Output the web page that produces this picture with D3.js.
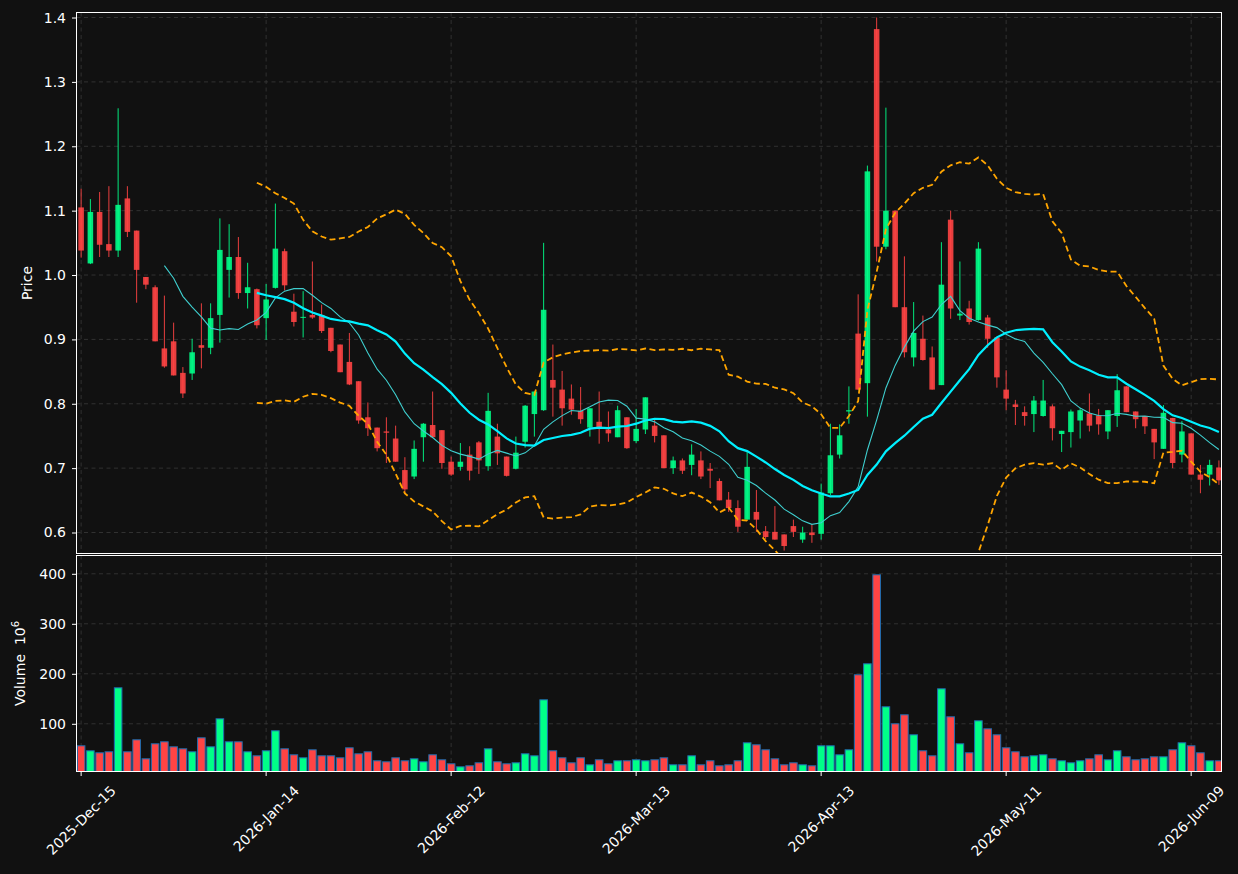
<!DOCTYPE html>
<html>
<head>
<meta charset="utf-8">
<script src="https://cdn.jsdelivr.net/npm/d3@7"></script>
<style>
  html, body { margin: 0; padding: 0; background: #111111; }
  svg { display: block; font-family: "DejaVu Sans", sans-serif; }
  text { white-space: pre; }
</style>
</head>
<body>
<svg id="chart" width="1238" height="874"></svg>
<script>
// market holidays skipped in the trading calendar
const holidays = ['2025-12-25', '2026-01-01', '2026-01-19', '2026-02-16', '2026-04-03', '2026-05-25'];

const opens = [
  1.105, 1.018, 1.098, 1.048, 1.038, 1.119, 1.069, 0.997, 0.981, 0.886,
  0.897, 0.848, 0.847, 0.891, 0.887, 0.938, 1.008, 1.028, 0.972, 0.978,
  0.933, 0.980, 1.037, 0.943, 0.934, 0.938, 0.938, 0.918, 0.892, 0.865,
  0.835, 0.779, 0.763, 0.757, 0.746, 0.697, 0.687, 0.748, 0.767, 0.759,
  0.710, 0.702, 0.721, 0.740, 0.703, 0.749, 0.718, 0.699, 0.741, 0.784,
  0.790, 0.837, 0.822, 0.808, 0.789, 0.763, 0.772, 0.760, 0.748, 0.779,
  0.742, 0.760, 0.766, 0.751, 0.700, 0.712, 0.705, 0.712, 0.699, 0.680,
  0.651, 0.638, 0.620, 0.632, 0.602, 0.601, 0.597, 0.610, 0.589, 0.600,
  0.598, 0.661, 0.721, 0.788, 0.909, 0.832, 1.382, 1.044, 1.100, 0.950,
  0.872, 0.901, 0.872, 0.829, 1.086, 0.937, 0.948, 0.930, 0.934, 0.903,
  0.822, 0.799, 0.787, 0.784, 0.781, 0.796, 0.753, 0.756, 0.774, 0.785,
  0.782, 0.757, 0.781, 0.827, 0.788, 0.781, 0.761, 0.730, 0.778, 0.721,
  0.754, 0.690, 0.690, 0.701,
];
const highs = [
  1.134, 1.118, 1.129, 1.138, 1.259, 1.138, 1.069, 0.997, 0.984, 0.968,
  0.926, 0.857, 0.901, 0.956, 0.956, 1.088, 1.079, 1.059, 1.019, 0.979,
  0.986, 1.111, 1.041, 0.971, 0.975, 1.021, 0.954, 0.918, 0.892, 0.910,
  0.835, 0.802, 0.763, 0.779, 0.766, 0.717, 0.743, 0.770, 0.819, 0.759,
  0.718, 0.739, 0.734, 0.742, 0.817, 0.769, 0.718, 0.749, 0.798, 0.819,
  1.050, 0.892, 0.851, 0.830, 0.826, 0.793, 0.819, 0.788, 0.797, 0.779,
  0.792, 0.810, 0.777, 0.751, 0.718, 0.715, 0.737, 0.726, 0.708, 0.684,
  0.663, 0.650, 0.727, 0.666, 0.610, 0.641, 0.597, 0.620, 0.609, 0.613,
  0.676, 0.769, 0.768, 0.827, 0.970, 1.170, 1.400, 1.260, 1.100, 1.029,
  0.958, 0.937, 0.889, 1.051, 1.100, 1.021, 0.960, 1.051, 0.938, 0.903,
  0.852, 0.806, 0.796, 0.812, 0.837, 0.799, 0.758, 0.791, 0.793, 0.816,
  0.792, 0.790, 0.846, 0.827, 0.788, 0.781, 0.761, 0.798, 0.778, 0.773,
  0.754, 0.705, 0.713, 0.712,
];
const lows = [
  1.027, 1.017, 1.028, 1.028, 1.028, 1.059, 0.957, 0.978, 0.897, 0.856,
  0.844, 0.809, 0.837, 0.855, 0.877, 0.895, 0.965, 0.963, 0.948, 0.917,
  0.899, 0.979, 0.976, 0.920, 0.903, 0.932, 0.910, 0.880, 0.849, 0.829,
  0.769, 0.750, 0.726, 0.708, 0.710, 0.661, 0.683, 0.710, 0.748, 0.699,
  0.688, 0.696, 0.681, 0.691, 0.696, 0.705, 0.687, 0.698, 0.732, 0.749,
  0.789, 0.780, 0.766, 0.783, 0.769, 0.749, 0.738, 0.741, 0.748, 0.730,
  0.739, 0.753, 0.740, 0.700, 0.691, 0.691, 0.689, 0.683, 0.669, 0.650,
  0.632, 0.601, 0.620, 0.601, 0.590, 0.589, 0.572, 0.593, 0.584, 0.584,
  0.589, 0.658, 0.715, 0.769, 0.822, 0.780, 1.021, 1.040, 0.950, 0.872,
  0.858, 0.867, 0.822, 0.829, 0.932, 0.930, 0.923, 0.929, 0.887, 0.825,
  0.790, 0.767, 0.766, 0.756, 0.780, 0.743, 0.725, 0.732, 0.746, 0.757,
  0.752, 0.745, 0.764, 0.787, 0.762, 0.753, 0.714, 0.730, 0.700, 0.709,
  0.690, 0.661, 0.673, 0.674,
];
const closes = [
  1.038, 1.098, 1.047, 1.038, 1.109, 1.067, 1.008, 0.985, 0.897, 0.858,
  0.844, 0.816, 0.880, 0.887, 0.933, 1.039, 1.028, 0.972, 0.981, 0.922,
  0.962, 1.041, 0.984, 0.927, 0.935, 0.934, 0.913, 0.882, 0.849, 0.830,
  0.774, 0.762, 0.731, 0.755, 0.710, 0.667, 0.730, 0.769, 0.748, 0.708,
  0.690, 0.710, 0.696, 0.712, 0.789, 0.723, 0.688, 0.724, 0.797, 0.819,
  0.946, 0.825, 0.793, 0.791, 0.776, 0.793, 0.763, 0.754, 0.790, 0.731,
  0.761, 0.810, 0.750, 0.700, 0.712, 0.696, 0.721, 0.687, 0.696, 0.650,
  0.638, 0.609, 0.702, 0.620, 0.593, 0.589, 0.579, 0.601, 0.600, 0.596,
  0.662, 0.720, 0.751, 0.790, 0.822, 1.161, 1.044, 1.100, 0.950, 0.880,
  0.910, 0.868, 0.822, 0.985, 0.948, 0.940, 0.927, 1.041, 0.901, 0.841,
  0.808, 0.795, 0.781, 0.805, 0.805, 0.762, 0.758, 0.788, 0.790, 0.766,
  0.768, 0.790, 0.821, 0.787, 0.776, 0.765, 0.740, 0.786, 0.708, 0.757,
  0.690, 0.682, 0.705, 0.681,
];
// volume in millions
const volumes = [
  56, 46, 42, 44, 172, 44, 68, 30, 60, 64,
  54, 50, 44, 72, 54, 110, 64, 64, 44, 36,
  46, 86, 50, 38, 32, 48, 36, 36, 32, 52,
  40, 44, 26, 24, 32, 26, 30, 24, 38, 28,
  20, 14, 16, 22, 50, 24, 20, 22, 40, 36,
  148, 46, 32, 22, 32, 18, 28, 20, 26, 26,
  28, 26, 28, 32, 18, 18, 36, 18, 26, 16,
  18, 26, 62, 58, 48, 30, 18, 22, 18, 16,
  56, 56, 38, 48, 198, 220, 398, 134, 100, 118,
  78, 46, 36, 170, 114, 60, 42, 106, 90, 78,
  52, 44, 34, 36, 38, 30, 26, 22, 26, 30,
  38, 28, 46, 34, 28, 30, 34, 34, 48, 62,
  56, 42, 26, 26,
];
const priceTicks = [0.6, 0.7, 0.8, 0.9, 1.0, 1.1, 1.2, 1.3, 1.4];
const volumeTicks = [100, 200, 300, 400];
const dateTickEvery = 20;

const upColor = '#00ff88';
const downColor = '#ff4444';

// trading days: weekdays minus holidays
const fmtDay = d3.utcFormat('%Y-%m-%d');
const dates = d3.utcDay
  .range(new Date(Date.UTC(2025, 11, 15)), new Date(Date.UTC(2026, 5, 13)))
  .filter((d) => d.getUTCDay() !== 0 && d.getUTCDay() !== 6 && !holidays.includes(fmtDay(d)))
  .slice(0, closes.length);
const fmtTick = d3.utcFormat('%Y-%b-%d');

const bars = closes.map((c, i) => ({
  i, o: opens[i], h: highs[i], l: lows[i], c, v: volumes[i], up: c >= opens[i],
}));

const rolling = (arr, n, fn) => arr.map((_, i) => (i < n - 1 ? null : fn(arr.slice(i - n + 1, i + 1))));
const ma10 = rolling(closes, 10, d3.mean);
const ma20 = rolling(closes, 20, d3.mean);
const sd20 = rolling(closes, 20, (w) => {
  const m = d3.mean(w);
  return Math.sqrt(d3.mean(w, (x) => (x - m) ** 2));
});
const bbUpper = ma20.map((m, i) => (m === null ? null : m + 2 * sd20[i]));
const bbLower = ma20.map((m, i) => (m === null ? null : m - 2 * sd20[i]));

const dim = {
  l: 76.5, r: 1221.5, priceTop: 12.5, priceBottom: 553.5, volTop: 555.5, volBottom: 771.5,
};

const svg = d3.select('#chart');
svg.append('rect').attr('width', 1238).attr('height', 874).attr('fill', '#111111');

const x = d3.scaleLinear().domain([-0.5, 123.28]).range([dim.l, dim.r]);
const yP = d3.scaleLinear().domain([0.5674, 1.4078]).range([dim.priceBottom, dim.priceTop]);
const yV = d3.scaleLinear().domain([4.6, 436.6]).range([dim.volBottom, dim.volTop]);
const step = x(1) - x(0);
const dateTicks = d3.range(0, closes.length, dateTickEvery);

const defs = svg.append('defs');
defs.append('clipPath').attr('id', 'clip-price')
  .append('rect')
  .attr('x', dim.l).attr('y', dim.priceTop)
  .attr('width', dim.r - dim.l).attr('height', dim.priceBottom - dim.priceTop);
defs.append('clipPath').attr('id', 'clip-vol')
  .append('rect')
  .attr('x', dim.l).attr('y', dim.volTop)
  .attr('width', dim.r - dim.l).attr('height', dim.volBottom - dim.volTop);

const gridStyle = (sel) => sel
  .attr('stroke', '#3a3a3a')
  .attr('stroke-width', 0.8)
  .attr('stroke-dasharray', '4,3.5');

const drawGrid = (g, yScale, yTicks, top, bottom) => {
  g.selectAll('.gx').data(dateTicks).join('line')
    .attr('class', 'gx')
    .attr('x1', (d) => x(d)).attr('x2', (d) => x(d))
    .attr('y1', top).attr('y2', bottom)
    .call(gridStyle);
  g.selectAll('.gy').data(yTicks).join('line')
    .attr('class', 'gy')
    .attr('x1', dim.l).attr('x2', dim.r)
    .attr('y1', (d) => yScale(d)).attr('y2', (d) => yScale(d))
    .call(gridStyle);
};

drawGrid(svg.append('g'), yP, priceTicks, dim.priceTop, dim.priceBottom);
drawGrid(svg.append('g'), yV, volumeTicks, dim.volTop, dim.volBottom);

// candles
const candleG = svg.append('g').attr('clip-path', 'url(#clip-price)');
const bodyW = step * 0.6;

candleG.selectAll('.wick').data(bars).join('line')
  .attr('class', 'wick')
  .attr('x1', (d) => x(d.i)).attr('x2', (d) => x(d.i))
  .attr('y1', (d) => yP(d.h)).attr('y2', (d) => yP(d.l))
  .attr('stroke', (d) => (d.up ? upColor : downColor))
  .attr('stroke-opacity', 0.9)
  .attr('stroke-width', 1);

candleG.selectAll('.body').data(bars).join('rect')
  .attr('class', 'body')
  .attr('x', (d) => x(d.i) - bodyW / 2)
  .attr('width', bodyW)
  .attr('y', (d) => yP(Math.max(d.o, d.c)))
  .attr('height', (d) => Math.max(1, Math.abs(yP(d.o) - yP(d.c))))
  .attr('fill', (d) => (d.up ? upColor : downColor))
  .attr('fill-opacity', 0.9);

// moving averages and bands
const lineOf = (vals) => d3.line()
  .defined((d) => d !== null)
  .x((d, i) => x(i))
  .y((d) => yP(d))(vals);

const linesG = svg.append('g').attr('clip-path', 'url(#clip-price)').attr('fill', 'none');
linesG.append('path').attr('d', lineOf(ma10))
  .attr('stroke', '#3fcfcf').attr('stroke-width', 1.1);
linesG.append('path').attr('d', lineOf(ma20))
  .attr('stroke', '#00f0ff').attr('stroke-width', 2.2);
[bbUpper, bbLower].forEach((band) => {
  linesG.append('path').attr('d', lineOf(band))
    .attr('stroke', '#ffa500').attr('stroke-width', 1.8)
    .attr('stroke-dasharray', '6,3.5');
});

// volume bars
const volW = step * 0.82;
svg.append('g').attr('clip-path', 'url(#clip-vol)')
  .selectAll('rect').data(bars).join('rect')
  .attr('x', (d) => x(d.i) - volW / 2)
  .attr('width', volW)
  .attr('y', (d) => yV(d.v))
  .attr('height', (d) => yV(0) - yV(d.v))
  .attr('fill', (d) => (d.up ? upColor : downColor))
  .attr('stroke', '#1f6db0')
  .attr('stroke-width', 1);

// frames
[[dim.priceTop, dim.priceBottom], [dim.volTop, dim.volBottom]].forEach(([t, b]) => {
  svg.append('rect')
    .attr('x', dim.l).attr('y', t)
    .attr('width', dim.r - dim.l).attr('height', b - t)
    .attr('fill', 'none').attr('stroke', '#ffffff').attr('stroke-width', 1);
});

const styleAxis = (g) => {
  g.select('.domain').remove();
  g.selectAll('line').attr('stroke', '#ffffff');
  g.selectAll('text')
    .attr('fill', '#ffffff')
    .style('font-size', '14px')
    .style('font-family', '"DejaVu Sans", sans-serif');
};

svg.append('g')
  .attr('transform', `translate(${dim.l},0)`)
  .call(d3.axisLeft(yP).tickValues(priceTicks).tickFormat(d3.format('.1f'))
    .tickSize(4.5).tickPadding(6))
  .call(styleAxis);

svg.append('g')
  .attr('transform', `translate(${dim.l},0)`)
  .call(d3.axisLeft(yV).tickValues(volumeTicks).tickFormat(d3.format('d'))
    .tickSize(4.5).tickPadding(6))
  .call(styleAxis);

// date axis, rotated labels centred under the ticks
const xAxisG = svg.append('g');
xAxisG.selectAll('line').data(dateTicks).join('line')
  .attr('x1', (d) => x(d)).attr('x2', (d) => x(d))
  .attr('y1', dim.volBottom).attr('y2', dim.volBottom + 4.5)
  .attr('stroke', '#ffffff');
xAxisG.selectAll('text').data(dateTicks).join('text')
  .attr('fill', '#ffffff')
  .style('font-size', '14px')
  .attr('text-anchor', 'middle')
  .attr('dominant-baseline', 'central')
  .text((d) => fmtTick(dates[d]))
  .attr('transform', function (d) {
    const w = this.getComputedTextLength();
    const half = ((w + 16) * Math.SQRT1_2) / 2;
    return `translate(${x(d)},${dim.volBottom + 11 + half}) rotate(-45)`;
  });

// axis titles
svg.append('text')
  .attr('transform', `translate(32,${(dim.priceTop + dim.priceBottom) / 2}) rotate(-90)`)
  .attr('text-anchor', 'middle')
  .attr('fill', '#ffffff')
  .style('font-size', '14px')
  .text('Price');

const volLabel = svg.append('text')
  .attr('transform', `translate(25,${(dim.volTop + dim.volBottom) / 2}) rotate(-90)`)
  .attr('text-anchor', 'middle')
  .attr('fill', '#ffffff')
  .style('font-size', '14px');
volLabel.append('tspan').text('Volume  10');
volLabel.append('tspan').attr('dy', -6).style('font-size', '10px').text('6');
</script>
</body>
</html>
